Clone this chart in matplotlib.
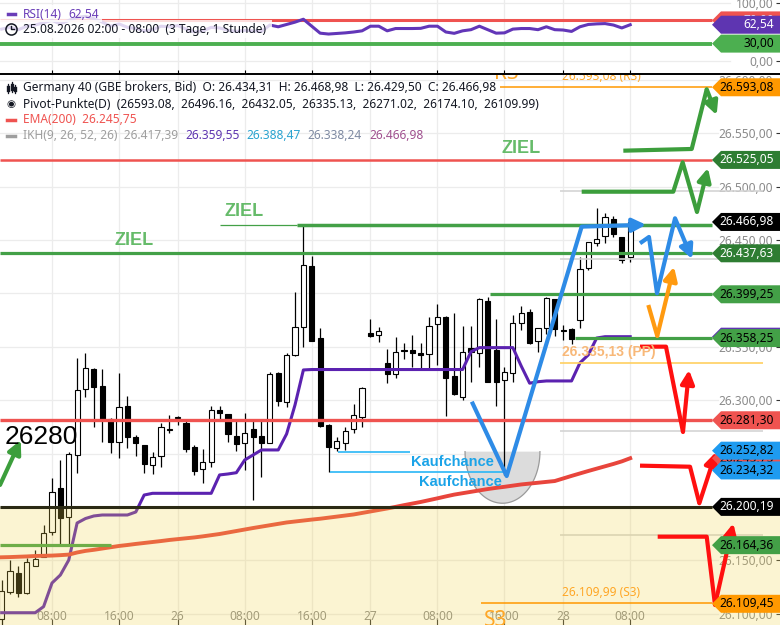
import numpy as np
import matplotlib.pyplot as plt
from matplotlib.patches import Polygon, Rectangle
from matplotlib.lines import Line2D
from matplotlib.transforms import blended_transform_factory

plt.rcParams['font.family'] = ['Noto Sans', 'DejaVu Sans']

# hourly candles, 25.08. 02:00 .. 28.08. 08:00 (bar index 0..75)
opens = [26095.0, 26120.8, 26138.0, 26119.3, 26145.0, 26153.6, 26176.4, 26217.6, 26190.5, 26249.0,
         26310.3, 26329.3, 26313.4, 26282.3, 26260.7, 26295.0, 26266.0, 26258.0, 26239.4, 26248.1,
         26272.0, 26283.0, 26278.5, 26256.6, 26235.4, 26242.5, 26290.9, 26286.9, 26266.6, 26259.7,
         26272.9, 26266.6, 26260.3, 26325.3, 26298.7, 26342.1, 26369.0, 26425.8, 26358.0, 26277.0,
         26255.0, 26259.7, 26272.9, 26284.1, 26362.7, 26361.1, 26334.6, 26324.6, 26346.5, 26347.0,
         26344.0, 26343.1, 26371.2, 26377.7, 26322.8, 26303.4, 26348.7, 26344.0, 26393.0, 26347.0,
         26319.0, 26325.3, 26372.7, 26383.0, 26355.5, 26367.4, 26394.6, 26366.0, 26366.5, 26375.2,
         26424.2, 26447.0, 26453.8, 26469.5, 26452.6, 26434.31]
highs = [26132.0, 26150.0, 26145.0, 26152.0, 26160.0, 26183.0, 26227.6, 26244.0, 26252.0, 26339.3,
         26344.0, 26330.0, 26329.0, 26283.0, 26326.0, 26304.0, 26267.5, 26258.5, 26251.9, 26279.0,
         26286.0, 26285.0, 26281.6, 26258.0, 26254.0, 26294.7, 26294.7, 26287.5, 26282.2, 26287.8,
         26282.2, 26282.2, 26326.8, 26326.8, 26344.0, 26401.7, 26463.2, 26435.0, 26367.4, 26277.5,
         26265.4, 26275.3, 26296.6, 26312.7, 26376.0, 26368.9, 26347.8, 26359.6, 26354.0, 26361.2,
         26353.4, 26378.3, 26390.2, 26378.5, 26381.5, 26369.6, 26369.6, 26395.5, 26397.0, 26376.0,
         26331.5, 26380.0, 26388.3, 26385.2, 26367.4, 26397.0, 26395.0, 26370.5, 26367.4, 26434.5,
         26447.9, 26479.8, 26475.1, 26472.6, 26452.6, 26468.98]
lows = [26086.0, 26119.0, 26116.0, 26119.0, 26144.5, 26153.0, 26174.0, 26165.0, 26165.0, 26232.2,
        26303.4, 26275.3, 26261.0, 26250.4, 26246.3, 26255.0, 26248.0, 26232.2, 26231.0, 26237.8,
        26269.0, 26277.0, 26251.9, 26230.0, 26222.8, 26237.8, 26281.6, 26261.0, 26252.8, 26234.8,
        26206.7, 26227.9, 26259.7, 26294.7, 26294.0, 26341.5, 26350.2, 26355.8, 26274.8, 26233.2,
        26252.8, 26253.5, 26269.0, 26275.3, 26359.6, 26354.9, 26315.9, 26320.6, 26338.4, 26331.5,
        26330.0, 26330.5, 26333.0, 26285.3, 26305.0, 26300.3, 26317.4, 26331.5, 26317.0, 26294.7,
        26230.0, 26317.4, 26365.8, 26352.4, 26345.0, 26362.0, 26360.0, 26356.0, 26352.7, 26368.0,
        26422.0, 26444.5, 26447.6, 26453.2, 26428.8, 26429.50]
closes = [26121.0, 26140.5, 26120.0, 26148.3, 26151.0, 26175.5, 26213.9, 26189.5, 26249.5, 26309.6,
          26330.0, 26312.8, 26282.3, 26260.7, 26293.5, 26266.0, 26259.7, 26240.0, 26246.7, 26274.7,
          26272.5, 26283.5, 26254.0, 26233.8, 26242.5, 26290.9, 26287.8, 26268.2, 26258.8, 26269.0,
          26265.4, 26259.7, 26324.6, 26299.6, 26342.4, 26368.3, 26426.7, 26355.8, 26276.0, 26256.6,
          26261.9, 26271.5, 26286.2, 26311.8, 26360.2, 26365.2, 26324.3, 26345.0, 26346.2, 26344.6,
          26342.7, 26369.6, 26377.7, 26321.2, 26305.6, 26345.5, 26345.5, 26394.9, 26317.4, 26317.4,
          26326.8, 26372.7, 26382.0, 26353.4, 26367.4, 26395.5, 26366.5, 26365.0, 26357.1, 26422.7,
          26447.9, 26450.8, 26471.4, 26455.4, 26431.4, 26466.98]

ema200 = [26153.0, 26153.2, 26153.5, 26153.8, 26154.2, 26154.4, 26154.6, 26155.0, 26155.5, 26157.5,
          26159.0, 26160.0, 26161.2, 26162.4, 26163.6, 26164.5, 26165.5, 26166.4, 26167.3, 26168.2,
          26169.2, 26170.0, 26170.8, 26171.6, 26172.6, 26173.7, 26174.8, 26176.2, 26177.6, 26179.0,
          26180.4, 26181.7, 26183.0, 26184.3, 26185.6, 26186.5, 26187.4, 26188.3, 26189.1, 26190.1,
          26191.1, 26192.1, 26193.1, 26194.5, 26195.9, 26197.3, 26198.7, 26200.2, 26201.8, 26203.3,
          26204.8, 26206.5, 26208.2, 26210.0, 26211.7, 26213.0, 26214.3, 26215.6, 26216.9, 26218.0,
          26219.0, 26220.1, 26221.2, 26222.0, 26222.8, 26223.6, 26224.4, 26226.8, 26229.2, 26231.5,
          26233.8, 26236.0, 26238.2, 26240.4, 26242.8, 26245.75]
kijun = [26101.1, 26101.1, 26101.1, 26101.1, 26101.1, 26106.8, 26128.9, 26136.4, 26150.4, 26185.1,
         26189.3, 26191.7, 26192.6, 26192.6, 26192.6, 26192.6, 26195.4, 26211.3, 26212.9, 26212.9,
         26212.9, 26212.9, 26212.9, 26212.9, 26212.9, 26212.9, 26230.1, 26231.0, 26232.2, 26244.1,
         26248.8, 26253.5, 26253.5, 26253.5, 26268.5, 26295.6, 26328.4, 26328.8, 26328.8, 26328.8,
         26328.8, 26328.8, 26328.8, 26328.8, 26328.8, 26328.8, 26328.8, 26328.8, 26328.8, 26328.8,
         26328.8, 26328.8, 26328.8, 26328.8, 26328.8, 26328.8, 26345.5, 26349.3, 26349.3, 26349.3,
         26349.3, 26349.3, 26332.0, 26316.0, 26317.4, 26318.1, 26318.1, 26318.1, 26318.1, 26335.0,
         26342.5, 26358.3, 26359.55, 26359.55, 26359.55, 26359.55]
rsi = [55, 58, 54, 60, 62, 66, 70, 64, 70, 75, 77, 73, 67, 60, 64, 58, 56, 52, 54, 60,
       59, 61, 55, 50, 52, 58, 57, 53, 51, 53, 52, 51, 62, 59, 63, 67, 72, 60, 48, 46.5,
       47.5, 48.5, 50, 52, 60, 60, 52, 56, 56, 56, 56.3, 60, 60, 50, 47.7, 52, 54, 60,
       54, 48, 48.5, 55, 56, 56, 54, 59, 54, 53.4, 51, 59, 63, 64, 64.5, 62, 57, 62.54]

tick_bars = [6, 14, 21, 29, 37, 44, 52, 60, 67, 75]
tick_labels = ['08:00', '16:00', '26', '08:00', '16:00', '27', '08:00', '16:00', '28', '08:00']

pivots = [26593.08, 26496.16, 26432.05, 26335.13, 26271.02, 26174.10, 26109.99]
ikh_values = [26417.39, 26359.55, 26388.47, 26338.24, 26466.98]

# right-hand price tags (drawn in this order, later ones on top)
tag_prices = [26593.08, 26525.05, 26466.98, 26437.63, 26399.25, 26359.55, 26358.25,
              26281.30, 26245.75, 26252.82, 26234.32, 26200.19, 26164.36, 26109.45]
tag_bg = ['#FF9800', '#2E7D32', '#000000', '#2E7D32', '#43A047', '#5E35B1', '#43A047',
          '#EF5350', '#EF5350', '#1E9BF0', '#1E9BF0', '#000000', '#43A047', '#FF9800']
tag_fg = ['black', 'white', 'white', 'white', 'black', 'white', 'black',
          'black', 'black', 'black', 'black', 'white', 'black', 'black']

# hand-drawn scenario arrows (bar index, price)
blue_v = [(56.1, 26298.7), (60.26, 26229.1), (69.21, 26462.6), (76.9, 26464.3)]
blue_zig = [(76.17, 26447.0), (77.24, 26452.9), (78.2, 26400.2), (80.35, 26470.4), (82.4, 26432.3)]
orange_up = [(77.16, 26389.2), (78.23, 26360.2), (80.23, 26425.0)]
green_top = [(74.18, 26533.7), (82.34, 26535.3), (84.13, 26591.2), (85.32, 26567.1)]
green_mid = [(69.21, 26495.3), (80.14, 26495.3), (81.26, 26522.8), (82.97, 26476.3), (84.28, 26517.5)]
green_left = [(-0.2, 26220.7), (2.27, 26262.8)]
red_1 = [(76.17, 26350.2), (79.27, 26350.2), (81.3, 26270.3), (82.02, 26328.4)]
red_2 = [(76.17, 26238.8), (82.14, 26237.8), (83.25, 26203.6), (85.24, 26251.6)]
red_3 = [(78.28, 26172.3), (84.13, 26172.3), (85.12, 26108.3), (87.3, 26184.8)]


def de(v):
    return f"{v:,.2f}".replace(',', 'X').replace('.', ',').replace('X', '.')


W, H = 780, 625
XLIM = (-1.7 / 8.38, (W - 1.7) / 8.38)
YLIM = (26089.6, 26605.5)
RLIM = (-22.4, 105.17)
RIGHT_END = (712 - 1.7) / 8.38
FS = 8.6
BOLD = 'Liberation Sans'

fig = plt.figure(figsize=(7.8, 6.25), dpi=100)
ax = fig.add_axes([0, 0, 1, 551 / H])
ax_rsi = fig.add_axes([0, 551 / H, 1, 74 / H])

grid_c = '#ececec'
lab_c = '#8a8a8a'

# ---------- main panel ----------
ax.set_xlim(*XLIM)
ax.set_ylim(*YLIM)
for s in ax.spines.values():
    s.set_visible(False)
ax.set_xticks(tick_bars, tick_labels)
ax.tick_params(axis='x', direction='in', length=4, pad=-11, labelsize=FS, labelcolor=lab_c, color='#333333')
yt = list(range(26100, 26601, 50))
ax.set_yticks(yt, [de(v) for v in yt])
ax.yaxis.tick_right()
ax.tick_params(axis='y', direction='in', length=3, pad=-5, labelsize=FS, labelcolor=lab_c, color='#333333')
plt.setp(ax.get_yticklabels(), ha='right')
ax.grid(axis='x', color=grid_c, lw=0.9)
ax.set_axisbelow(True)
for v in yt:
    ax.axhline(v, xmax=718 / W, color=grid_c, lw=0.9, zorder=0.5)

# candles
x = np.arange(len(opens))
o = np.array(opens)
c = np.array(closes)
up = c >= o
ax.vlines(x, lows, highs, color='black', lw=0.9, zorder=3)
body = np.maximum(np.abs(c - o), 0.9)
ax.bar(x, body, bottom=np.minimum(o, c), width=0.62,
       color=np.where(up, 'white', 'black'), edgecolor='black', lw=0.8, zorder=4)

# indicators
ax.plot(x, kijun, color='#5B22B0', lw=2.2, zorder=4.5)
ax.plot(x, ema200, color='#E8453C', lw=2.8, zorder=4.5)

# horizontal level lines
x0 = XLIM[0]
ax.hlines(pivots[0], 59.5, RIGHT_END, color='#FF9800', lw=1.1, zorder=4.6)
ax.hlines(pivots[6], 57.2, RIGHT_END, color='#FF9800', lw=1.1, zorder=7)
ax.hlines([pivots[1], pivots[2], pivots[4], pivots[5]], 66.6, 90.85, color='#d4d4d4', lw=1.2, zorder=4.6)
ax.hlines(pivots[3], 66.6, 90.85, color='#FFD060', lw=1.2, zorder=4.6)
ax.hlines(26464.5, 35.2, RIGHT_END, color='#43A047', lw=2.5, zorder=4.6)
ax.hlines(26464.5, 26.0, 35.2, color='#43A047', lw=0.9, zorder=4.6)
ax.hlines(tag_prices[3], x0, RIGHT_END, color='#43A047', lw=2.3, zorder=4.6)
ax.hlines(tag_prices[4], 58.3, RIGHT_END, color='#43A047', lw=2.3, zorder=4.6)
ax.hlines(tag_prices[6], 68.4, RIGHT_END, color='#43A047', lw=2.3, zorder=4.6)
ax.hlines(tag_prices[12], x0, 13.0, color='#43A047', lw=2.3, zorder=4.6)
ax.hlines(tag_prices[7], x0, RIGHT_END, color='#EF5350', lw=2.4, zorder=4.6)
ax.hlines(tag_prices[1], x0, RIGHT_END, color='#EF5350', lw=1.8, zorder=4.6)

# Kaufchance lines and bowl
ax.hlines(26251.3, 40.1, 48.7, color='#29B6F6', lw=1.2, zorder=4.6)
ax.hlines(26232.6, 39.2, 59.8, color='#29B6F6', lw=1.2, zorder=4.6)
th = np.linspace(-np.pi / 2, np.pi / 2, 60)
bx = 59.76 + 4.47 * np.sin(th)
by = 26251.9 - 48.3 * np.cos(th)
ax.fill(bx, by, color='#dcdcdc', lw=0, zorder=2.5)
ax.plot(bx, by, color='#9a9a9a', lw=0.9, zorder=2.6)

# yellow zone below support
ax.axhspan(YLIM[0], tag_prices[11], color='#F0D44C', alpha=0.25, lw=0, zorder=5)
ax.hlines(tag_prices[11], x0, RIGHT_END, color='#2b2a14', lw=2.2, zorder=6)


def arrow_path(pts, color):
    xs, ys = zip(*pts)
    ax.plot(xs[:-1], ys[:-1], color=color, lw=3, zorder=8, solid_capstyle='butt')
    ax.annotate('', xy=pts[-1], xytext=pts[-2], annotation_clip=False, zorder=8,
                arrowprops=dict(arrowstyle='-|>', color=color, lw=3, mutation_scale=20,
                                shrinkA=0, shrinkB=0))


arrow_path(blue_v, '#2E8BE6')
arrow_path(blue_zig, '#2E8BE6')
arrow_path(orange_up, '#FF9A10')
arrow_path(green_top, '#3C9E3C')
arrow_path(green_mid, '#3C9E3C')
arrow_path(green_left, '#3C9E3C')
arrow_path(red_1, '#FF1010')
arrow_path(red_2, '#FF1010')
arrow_path(red_3, '#FF1010')

# texts on chart
ziel_c = '#66BB6A'
for zx, zy in [(15.8, 26449.2), (28.97, 26476.3), (61.97, 26535.3)]:
    ax.text(zx, zy, 'ZIEL', color=ziel_c, family=BOLD, fontsize=13, fontweight='bold',
            ha='center', va='center', zorder=9)
ax.text(53.75, 26242.2, 'Kaufchance', color='#1AA3E8', family=BOLD, fontsize=10.5, fontweight='bold',
        ha='center', va='center', zorder=9)
ax.text(54.7, 26223.5, 'Kaufchance', color='#1AA3E8', family=BOLD, fontsize=10.5, fontweight='bold',
        ha='center', va='center', zorder=9)
ax.text(0.39, 26265.6, '26280', family='Liberation Sans', fontsize=19, color='black', ha='left', va='center', zorder=9)
ax.text(60.2, 26600.5, 'R3', color='#FFA726', fontsize=15, ha='center', va='baseline', clip_on=True, zorder=9)
ax.text(59.0, 26104.0, 'S3', color='#FFA726', fontsize=15, ha='center', va='top', zorder=9)
ax.text(66.86, 26603.6, f"{de(pivots[0])} (R3)", color='#FFA726', fontsize=FS, va='center', clip_on=True, zorder=9)
ax.text(66.86, 26345.2, f"{de(pivots[3])} (PP)", color='#F8B878', family=BOLD, fontsize=10,
        fontweight='bold', va='center', zorder=9)
ax.text(66.86, 26120.3, f"{de(pivots[6])} (S3)", color='#FFA726', fontsize=FS, va='center', zorder=9)


def tag(axis, y, label, bg, fg, half, z):
    tr = blended_transform_factory(axis.transAxes, axis.transData)
    verts = [(712 / W, y), (721 / W, y + half), (1, y + half), (1, y - half), (721 / W, y - half)]
    axis.add_patch(Polygon(verts, closed=True, transform=tr, facecolor=bg, edgecolor='none',
                           zorder=z, clip_on=False))
    axis.text(774 / W, y, label, transform=tr, ha='right', va='center', color=fg, fontsize=FS, zorder=z + 0.5)


half_main = 9 * (YLIM[1] - YLIM[0]) / 551
for k, (p, bg, fg) in enumerate(zip(tag_prices, tag_bg, tag_fg)):
    tag(ax, p, de(p), bg, fg, half_main, 10 + k)

# ---------- RSI panel ----------
ax_rsi.set_xlim(*XLIM)
ax_rsi.set_ylim(*RLIM)
for k, s in ax_rsi.spines.items():
    s.set_visible(k == 'bottom')
ax_rsi.spines['bottom'].set_linewidth(1.4)
ax_rsi.set_xticks(tick_bars)
ax_rsi.tick_params(axis='x', direction='in', length=3, labelbottom=False, color='black')
ax_rsi.set_yticks([0, 100], [de(0), de(100)])
ax_rsi.yaxis.tick_right()
ax_rsi.tick_params(axis='y', direction='in', length=3, pad=-5, labelsize=FS, labelcolor=lab_c, color='#333333')
plt.setp(ax_rsi.get_yticklabels(), ha='right')
ax_rsi.grid(axis='x', color=grid_c, lw=0.9)
ax_rsi.set_axisbelow(True)
for v in [0, 100]:
    ax_rsi.axhline(v, xmax=730 / W, color=grid_c, lw=0.9, zorder=0.5)
ax_rsi.hlines(70, XLIM[0], RIGHT_END, color='#EF5350', lw=2.2, zorder=3)
ax_rsi.hlines(30, XLIM[0], RIGHT_END, color='#4CAF50', lw=2.8, zorder=3)
ax_rsi.plot(x, rsi, color='#6236B8', lw=2.2, zorder=4)
half_rsi = 9 * (RLIM[1] - RLIM[0]) / 74
tag(ax_rsi, 70, de(70), '#EF5350', 'white', half_rsi, 10)
tag(ax_rsi, rsi[-1], de(rsi[-1]), '#5E35B1', 'white', half_rsi, 11)
tag(ax_rsi, 30, de(30), '#4CAF50', 'black', half_rsi, 12)


# ---------- legends ----------
def fx(px):
    return px / W


def fy(py):
    return 1 - py / H


fig.add_artist(Rectangle((0, fy(22)), fx(102), 17 / H, transform=fig.transFigure,
                         facecolor='white', alpha=0.8, lw=0))
fig.add_artist(Rectangle((0, fy(38)), fx(272), 18 / H, transform=fig.transFigure,
                         facecolor='white', alpha=0.8, lw=0))

dark = '#131722'
fig.add_artist(Line2D([fx(8), fx(15)], [fy(14), fy(14)], color='#6A3DB8', lw=2.5))
fig.text(fx(23), fy(14), 'RSI(14)', color='#6A3DB8', fontsize=FS, va='center')
fig.text(fx(68), fy(14), de(rsi[-1]), color='#6A3DB8', fontsize=FS, va='center')
fig.add_artist(Line2D([fx(11)], [fy(29)], marker='o', ms=8, mfc='none', mec=dark, mew=1.1))
fig.add_artist(Line2D([fx(11), fx(11), fx(13.5)], [fy(25.5), fy(29), fy(29)], color=dark, lw=1))
fig.text(fx(23), fy(29), '25.08.2026 02:00 - 08:00  (3 Tage, 1 Stunde)', color=dark, fontsize=FS, va='center')

# main legend
for xi, hi, lo in [(8, 84, 93), (11.5, 82, 92), (15, 85, 93)]:
    fig.add_artist(Line2D([fx(xi), fx(xi)], [fy(hi), fy(lo)], color=dark, lw=0.9))
    fig.add_artist(Line2D([fx(xi), fx(xi)], [fy(hi + 3), fy(lo - 3)], color=dark, lw=2.4))
fig.text(fx(23), fy(88),
         f"Germany 40 (GBE brokers, Bid)  O: {de(opens[-1])}  H: {de(highs[-1])}  "
         f"L: {de(lows[-1])}  C: {de(closes[-1])}", color=dark, fontsize=FS, va='center')
fig.text(fx(11), fy(104), '◉', family='DejaVu Sans', color=dark, fontsize=7.5, ha='center', va='center')
fig.text(fx(23), fy(104),
         'Pivot-Punkte(D)  (' + ',  '.join(f"{p:.2f}" for p in pivots) + ')',
         color=dark, fontsize=FS, va='center')
fig.add_artist(Line2D([fx(7), fx(15)], [fy(119.5), fy(119.5)], color='#EF5350', lw=2.5))
fig.text(fx(23), fy(119.5), f"EMA(200)  {de(ema200[-1])}", color='#EF5350', fontsize=FS, va='center')
fig.add_artist(Line2D([fx(7), fx(15)], [fy(135.7), fy(135.7)], color='#9E9E9E', lw=2.5))
prev = fig.text(fx(23), fy(135.7), f"IKH(9, 26, 52, 26)  {de(ikh_values[0])}",
                color='#9E9E9E', fontsize=FS, va='center')
for val, col in zip(ikh_values[1:], ['#5E35B1', '#29A3D0', '#7E8AA2', '#A0508F']):
    prev = ax.annotate(de(val), xy=(1, 0.5), xycoords=prev, xytext=(5, 0), textcoords='offset points',
                       color=col, fontsize=FS, va='center', ha='left', annotation_clip=False)

fig.savefig('out.png', dpi=100)
